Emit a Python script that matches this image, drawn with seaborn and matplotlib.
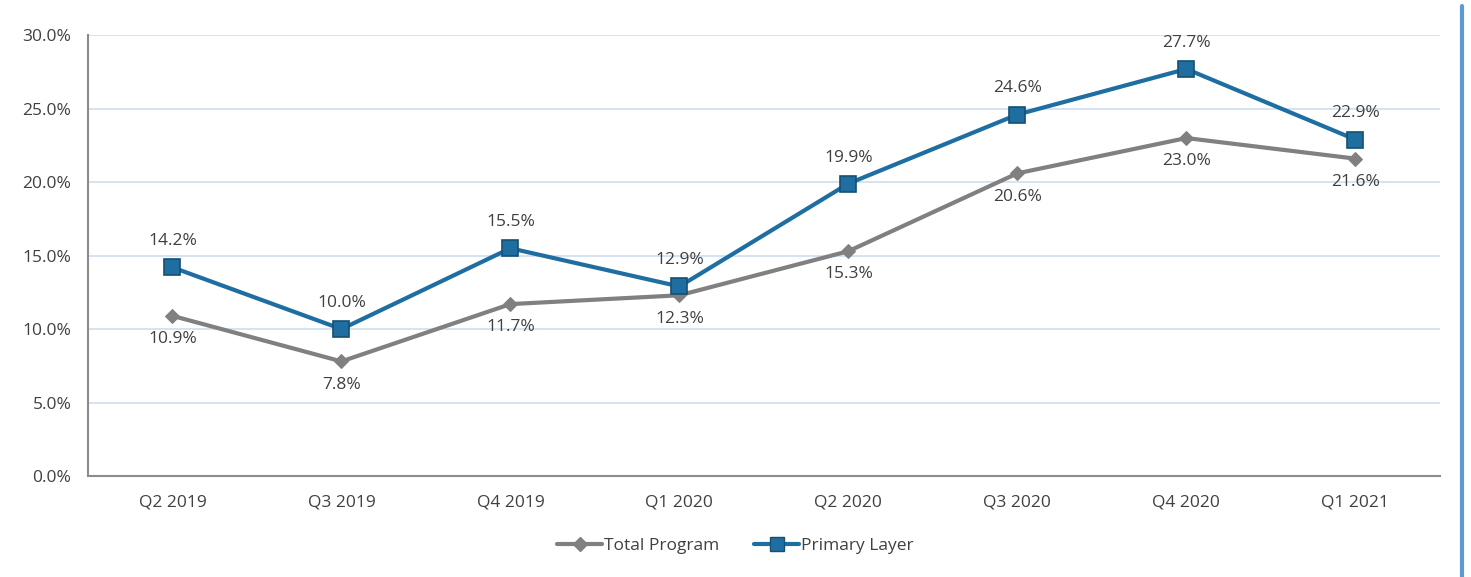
import matplotlib
matplotlib.use("Agg")
import matplotlib.pyplot as plt
import seaborn as sns
import pandas as pd
from matplotlib.lines import Line2D
from matplotlib.ticker import FuncFormatter

quarters = ["Q2 2019", "Q3 2019", "Q4 2019", "Q1 2020", "Q2 2020", "Q3 2020", "Q4 2020", "Q1 2021"]
total_program = [10.9, 7.8, 11.7, 12.3, 15.3, 20.6, 23.0, 21.6]
primary_layer = [14.2, 10.0, 15.5, 12.9, 19.9, 24.6, 27.7, 22.9]
series_names = ["Total Program", "Primary Layer"]

sns.set_theme(style="white")
plt.rcParams['font.family'] = ['Open Sans', 'DejaVu Sans']

df = pd.DataFrame({
    "Quarter": quarters * 2,
    "Value": total_program + primary_layer,
    "Series": [series_names[0]] * len(quarters) + [series_names[1]] * len(quarters),
})

fig = plt.figure(figsize=(14.71, 5.77), dpi=100)
ax = fig.add_axes([0.0598, 0.175, 0.919, 0.764])

gray = "#808080"
blue = "#1F6EA2"
sns.lineplot(data=df, x="Quarter", y="Value", hue="Series", style="Series",
             palette={series_names[0]: gray, series_names[1]: blue},
             markers={series_names[0]: "D", series_names[1]: "s"},
             dashes=False, linewidth=3, markersize=9, ax=ax, legend=False,
             sort=False)
for line in ax.lines:
    if matplotlib.colors.to_hex(line.get_color()) == blue.lower():
        line.set_markersize(11)
        line.set_markeredgecolor("#15506F")
        line.set_markeredgewidth(1.2)
    else:
        line.set_markersize(7)
        line.set_markeredgecolor(gray)

ax.set_xlim(-0.5, len(quarters) - 0.5)
ax.set_ylim(0, 30)
ax.set_yticks([0, 5, 10, 15, 20, 25, 30])
ax.yaxis.set_major_formatter(FuncFormatter(lambda v, p: f"{v:.1f}%"))
ax.grid(axis="y", color="#D3DFF2", linewidth=1.3)
ax.set_axisbelow(True)
for s in ["top", "right"]:
    ax.spines[s].set_visible(False)
ax.spines["left"].set_color("#8C8C8C")
ax.spines["bottom"].set_color("#8C8C8C")
ax.spines["left"].set_linewidth(1.5)
ax.spines["bottom"].set_linewidth(1.5)
ax.set_xlabel("")
ax.set_ylabel("")
fs = 12.5
ax.tick_params(axis="both", labelsize=fs, colors="#404040", length=0, pad=12)
ax.tick_params(axis="x", pad=13)

for i, v in enumerate(primary_layer):
    ax.annotate(f"{v:.1f}%", (i, v), xytext=(0, 13), textcoords="offset points",
                ha="center", va="bottom", fontsize=fs, color="#404040")
for i, v in enumerate(total_program):
    ax.annotate(f"{v:.1f}%", (i, v), xytext=(0, -11), textcoords="offset points",
                ha="center", va="top", fontsize=fs, color="#404040")

handles = [
    Line2D([], [], color=gray, linewidth=3, marker="D", markersize=7),
    Line2D([], [], color=blue, linewidth=3, marker="s", markersize=10, markeredgecolor="#15506F"),
]
fig.legend(handles, series_names, loc="center", bbox_to_anchor=(0.5, 0.054), ncol=2,
           frameon=False, fontsize=fs, handlelength=2.6, handletextpad=0.1,
           columnspacing=2.0, labelcolor="#404040")

fig.add_artist(Line2D([0.9939, 0.9939], [0.0, 0.99], color="#5B9BD5", linewidth=3,
                      transform=fig.transFigure))

fig.savefig("out.png", dpi=100)
